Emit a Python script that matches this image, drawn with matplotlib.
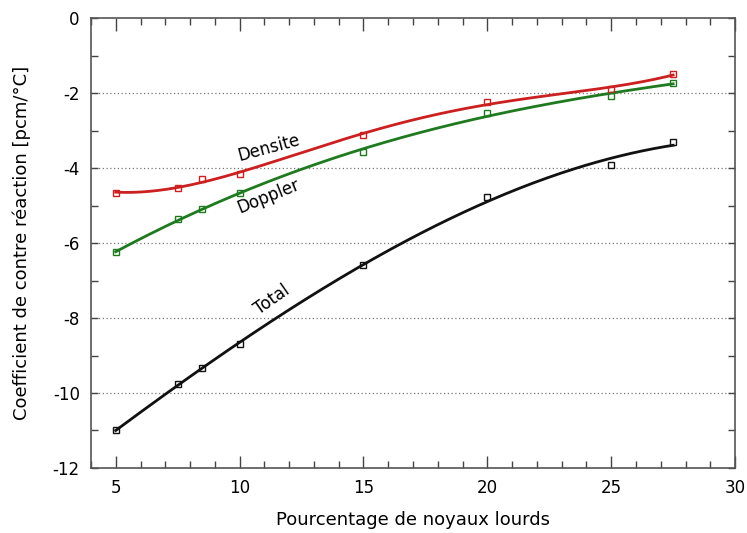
import numpy as np
import matplotlib
matplotlib.use("Agg")
import matplotlib.pyplot as plt
from matplotlib.ticker import MultipleLocator

# percentage of heavy nuclei
pct = [5, 7.5, 8.5, 10, 15, 20, 25, 27.5]

densite = [-4.66, -4.52, -4.29, -4.17, -3.12, -2.23, -1.90, -1.49]
doppler = [-6.25, -5.36, -5.10, -4.66, -3.56, -2.52, -2.08, -1.72]
total = [-10.99, -9.77, -9.34, -8.70, -6.59, -4.76, -3.92, -3.30]

series = [
    ("Densite", densite, "#cc1f1f", 4, 11.2, -3.47, 15),
    ("Doppler", doppler, "#1f7a1f", 4, 11.15, -4.75, 22),
    ("Total", total, "#111111", 3, 11.3, -7.52, 35),
]

plt.rcParams["font.family"] = ["DejaVu Sans"]
plt.rcParams["axes.unicode_minus"] = False

fig = plt.figure(figsize=(7.47, 5.33), dpi=100)
ax = fig.add_axes([0.1218, 0.122, 0.8622, 0.844])

xs = np.linspace(min(pct), max(pct), 200)
for name, vals, color, deg, tx, ty, rot in series:
    coef = np.polyfit(pct, vals, deg)
    ax.plot(xs, np.polyval(coef, xs), color=color, linewidth=2, zorder=3)
    ax.plot(pct, vals, "s", markersize=5, markerfacecolor="none",
            markeredgecolor=color, markeredgewidth=1.0, zorder=4)
    ax.text(tx, ty, name, rotation=rot, ha="center", va="center",
            fontsize=12, rotation_mode="anchor")

ax.set_xlim(4, 30)
ax.set_ylim(-12, 0)
ax.xaxis.set_major_locator(MultipleLocator(5))
ax.xaxis.set_minor_locator(MultipleLocator(1))
ax.yaxis.set_major_locator(MultipleLocator(2))
ax.yaxis.set_minor_locator(MultipleLocator(1))
ax.tick_params(which="both", direction="in", top=True, right=True,
               color="#444444", labelsize=12, pad=8)
ax.tick_params(which="major", length=9, width=1)
ax.tick_params(which="minor", length=5, width=1)
ax.tick_params(axis="y", which="major", length=5)

for y in [-2, -4, -6, -8, -10]:
    ax.axhline(y, color="#777777", linestyle=(0, (1, 2)), linewidth=0.9, zorder=1)

for sp in ax.spines.values():
    sp.set_color("#555555")
    sp.set_linewidth(1.2)

ax.set_xlabel("Pourcentage de noyaux lourds", fontsize=13, labelpad=10)
ax.set_ylabel("Coefficient de contre réaction [pcm/°C]", fontsize=13, labelpad=16)

fig.savefig("out.png", dpi=100)
plt.close(fig)
